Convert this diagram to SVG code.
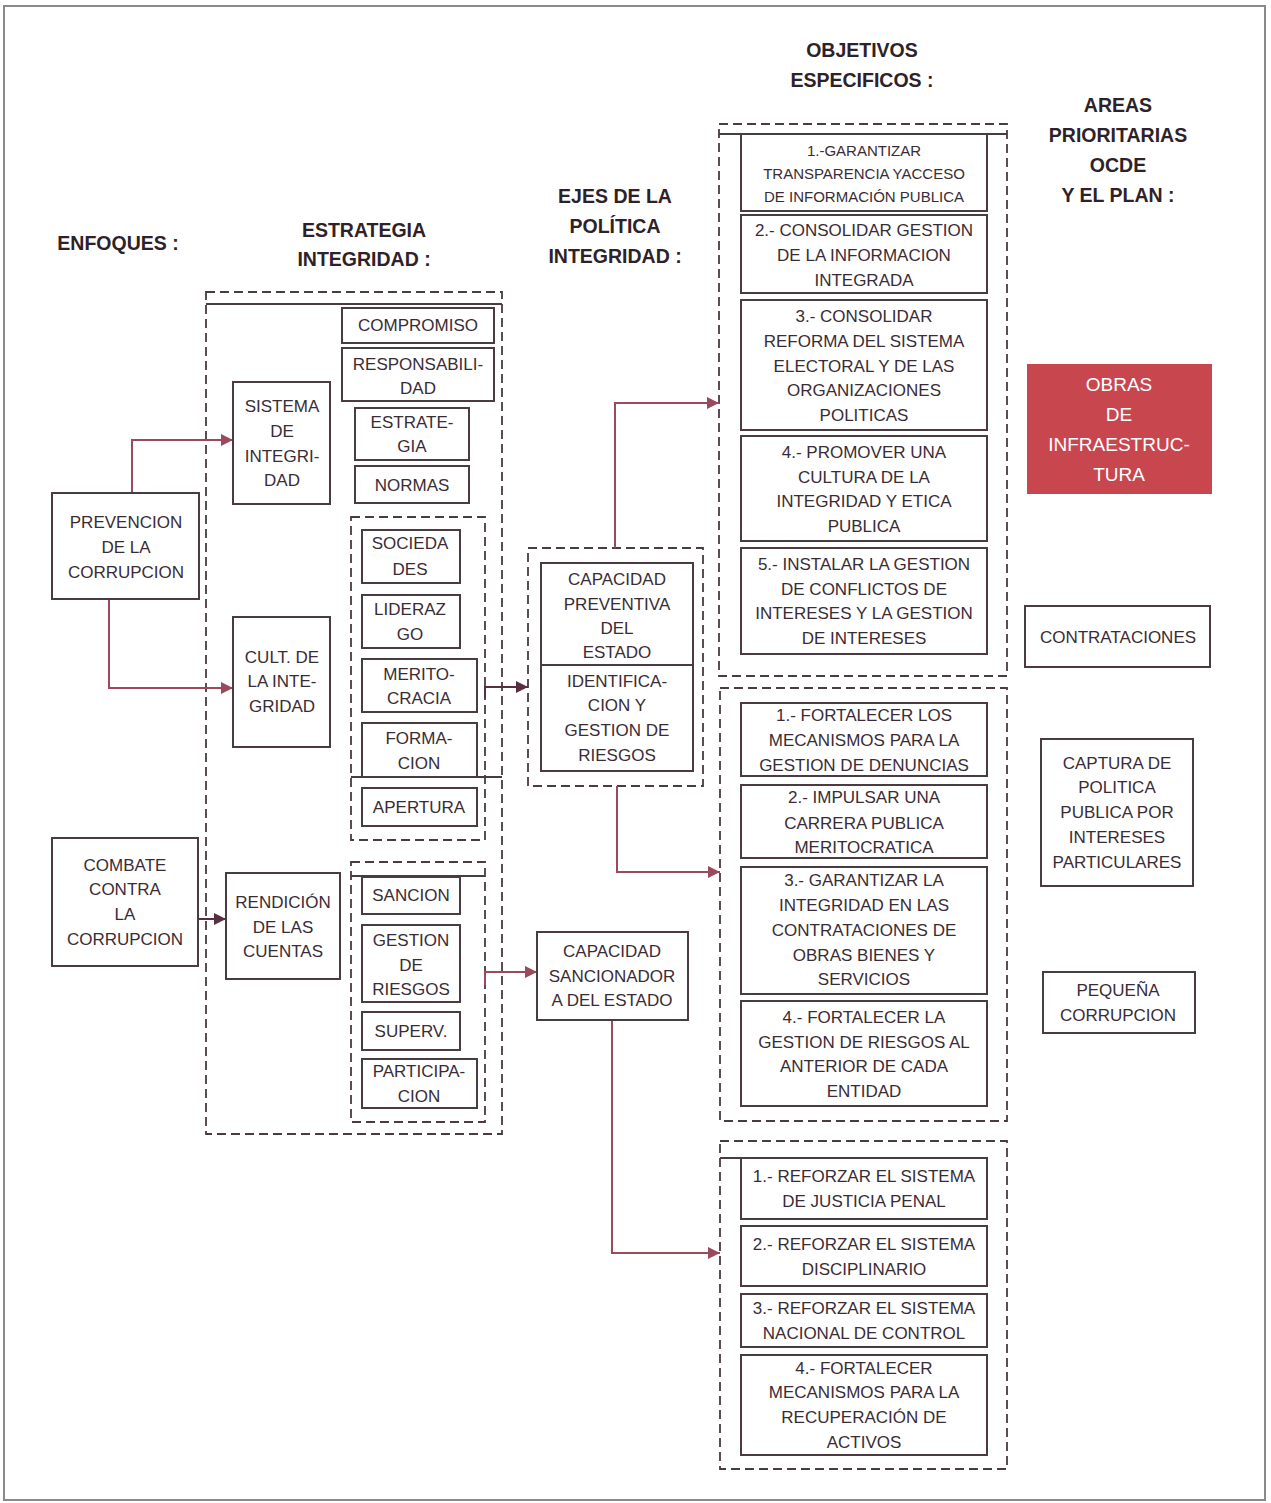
<svg xmlns="http://www.w3.org/2000/svg" width="1271" height="1503" viewBox="0 0 1271 1503">
<defs>
<style>
text{font-family:"Liberation Sans",Arial,sans-serif;fill:#3a2c35;text-anchor:middle;dominant-baseline:central}
.h{font-size:19.5px;font-weight:bold;fill:#2e2228}
.t{font-size:17px}
.s{font-size:15px}
.w{font-size:19px;fill:#ffffff}
.box{fill:#ffffff;stroke:#4a3a42;stroke-width:2}
.dash{fill:none;stroke:#4a3a42;stroke-width:1.8;stroke-dasharray:9 5}
.sol{fill:none;stroke:#4a3a42;stroke-width:1.8}
.c{fill:none;stroke:#9b4a5e;stroke-width:2}
.cd{fill:none;stroke:#5a2e40;stroke-width:2}
</style>
<marker id="a" viewBox="0 0 10 10" refX="10" refY="5" markerWidth="6" markerHeight="6" orient="auto" markerUnits="strokeWidth"><path d="M0,0L10,5L0,10z" fill="#9b4a5e"/></marker>
<marker id="ad" viewBox="0 0 10 10" refX="10" refY="5" markerWidth="6" markerHeight="6" orient="auto" markerUnits="strokeWidth"><path d="M0,0L10,5L0,10z" fill="#5a2e40"/></marker>
</defs>
<rect x="4" y="6" width="1261" height="1494" fill="#ffffff" stroke="#8a8a8a" stroke-width="2"/>

<g id="headers">
<text class="h" x="118" y="243">ENFOQUES :</text>
<text class="h" x="364" y="230">ESTRATEGIA</text>
<text class="h" x="364" y="259">INTEGRIDAD :</text>
<text class="h" x="615" y="196">EJES DE LA</text>
<text class="h" x="615" y="226">POLÍTICA</text>
<text class="h" x="615" y="256">INTEGRIDAD :</text>
<text class="h" x="862" y="50">OBJETIVOS</text>
<text class="h" x="862" y="80">ESPECIFICOS :</text>
<text class="h" x="1118" y="105">AREAS</text>
<text class="h" x="1118" y="135">PRIORITARIAS</text>
<text class="h" x="1118" y="165">OCDE</text>
<text class="h" x="1118" y="195">Y EL PLAN :</text>
</g>

<g id="containers">
<rect class="dash" x="206" y="292" width="296" height="842"/>
<line class="sol" x1="206" y1="304" x2="502" y2="304"/>
<rect class="dash" x="351" y="517" width="134" height="323"/>
<line class="sol" x1="351" y1="777" x2="502" y2="777"/>
<rect class="dash" x="351" y="862" width="134" height="260"/>
<line class="sol" x1="351" y1="876" x2="485" y2="876"/>
<rect class="dash" x="528" y="548" width="175" height="238"/>
<rect class="dash" x="719" y="124" width="288" height="552"/>
<line class="sol" x1="719" y1="134" x2="1007" y2="134"/>
<rect class="dash" x="720" y="688" width="287" height="433"/>
<rect class="dash" x="720" y="1141" width="287" height="328"/>
<line class="sol" x1="720" y1="1158" x2="987" y2="1158"/>
</g>

<g id="connectors">
<path class="c" d="M132,493V440H233" marker-end="url(#a)"/>
<path class="c" d="M109,599V688H233" marker-end="url(#a)"/>
<path class="cd" d="M198,919H226" marker-end="url(#ad)"/>
<path class="cd" d="M485,698V687H528" marker-end="url(#ad)"/>
<path class="c" d="M615,548V403H719" marker-end="url(#a)"/>
<path class="c" d="M617,786V872H720" marker-end="url(#a)"/>
<path class="c" d="M485,985V972H537" marker-end="url(#a)"/>
<path class="c" d="M612,1020V1253H720" marker-end="url(#a)"/>
</g>

<g id="prevencion"><rect class="box" x="52" y="493" width="147" height="106"/>
<text class="t" x="126" y="522">PREVENCION</text><text class="t" x="126" y="547">DE LA</text><text class="t" x="126" y="572">CORRUPCION</text></g>
<g id="combate"><rect class="box" x="52" y="838" width="146" height="128"/>
<text class="t" x="125" y="865">COMBATE</text><text class="t" x="125" y="889">CONTRA</text><text class="t" x="125" y="914">LA</text><text class="t" x="125" y="939">CORRUPCION</text></g>

<g id="sistema"><rect class="box" x="233" y="382" width="97" height="122"/>
<text class="t" x="282" y="406">SISTEMA</text><text class="t" x="282" y="431">DE</text><text class="t" x="282" y="456">INTEGRI-</text><text class="t" x="282" y="480">DAD</text></g>
<g id="cultura"><rect class="box" x="233" y="617" width="97" height="130"/>
<text class="t" x="282" y="657">CULT. DE</text><text class="t" x="282" y="681">LA INTE-</text><text class="t" x="282" y="706">GRIDAD</text></g>
<g id="rendicion"><rect class="box" x="226" y="873" width="114" height="106"/>
<text class="t" x="283" y="902">RENDICIÓN</text><text class="t" x="283" y="927">DE LAS</text><text class="t" x="283" y="951">CUENTAS</text></g>

<g id="compromiso"><rect class="box" x="342" y="308" width="152" height="35"/><text class="t" x="418" y="325">COMPROMISO</text></g>
<g id="responsabilidad"><rect class="box" x="342" y="348" width="152" height="53"/>
<text class="t" x="418" y="364">RESPONSABILI-</text><text class="t" x="418" y="388">DAD</text></g>
<g id="estrategia"><rect class="box" x="355" y="408" width="114" height="52"/>
<text class="t" x="412" y="422">ESTRATE-</text><text class="t" x="412" y="446">GIA</text></g>
<g id="normas"><rect class="box" x="355" y="466" width="114" height="37"/><text class="t" x="412" y="485">NORMAS</text></g>

<g id="sociedades"><rect class="box" x="362" y="530" width="98" height="53"/>
<text class="t" x="410" y="543">SOCIEDA</text><text class="t" x="410" y="569">DES</text></g>
<g id="liderazgo"><rect class="box" x="362" y="595" width="98" height="53"/>
<text class="t" x="410" y="609">LIDERAZ</text><text class="t" x="410" y="634">GO</text></g>
<g id="meritocracia"><rect class="box" x="362" y="659" width="115" height="53"/>
<text class="t" x="419" y="674">MERITO-</text><text class="t" x="419" y="698">CRACIA</text></g>
<g id="formacion"><rect class="box" x="362" y="723" width="115" height="54"/>
<text class="t" x="419" y="738">FORMA-</text><text class="t" x="419" y="763">CION</text></g>
<g id="apertura"><rect class="box" x="362" y="788" width="115" height="38"/><text class="t" x="419" y="807">APERTURA</text></g>

<g id="sancion"><rect class="box" x="362" y="877" width="98" height="37"/><text class="t" x="411" y="895">SANCION</text></g>
<g id="gestion-riesgos"><rect class="box" x="362" y="925" width="98" height="77"/>
<text class="t" x="411" y="940">GESTION</text><text class="t" x="411" y="965">DE</text><text class="t" x="411" y="989">RIESGOS</text></g>
<g id="superv"><rect class="box" x="362" y="1012" width="98" height="38"/><text class="t" x="411" y="1031">SUPERV.</text></g>
<g id="participacion"><rect class="box" x="362" y="1059" width="115" height="49"/>
<text class="t" x="419" y="1071">PARTICIPA-</text><text class="t" x="419" y="1096">CION</text></g>

<g id="capacidad-preventiva"><rect class="box" x="541" y="563" width="152" height="208"/>
<line class="sol" x1="541" y1="665" x2="693" y2="665"/>
<text class="t" x="617" y="579">CAPACIDAD</text><text class="t" x="617" y="604">PREVENTIVA</text><text class="t" x="617" y="628">DEL</text><text class="t" x="617" y="652">ESTADO</text>
<text class="t" x="617" y="681">IDENTIFICA-</text><text class="t" x="617" y="705">CION Y</text><text class="t" x="617" y="730">GESTION DE</text><text class="t" x="617" y="755">RIESGOS</text></g>
<g id="capacidad-sancionadora"><rect class="box" x="537" y="932" width="151" height="88"/>
<text class="t" x="612" y="951">CAPACIDAD</text><text class="t" x="612" y="976">SANCIONADOR</text><text class="t" x="612" y="1000">A DEL ESTADO</text></g>

<g id="obj1-1"><rect class="box" x="741" y="134" width="246" height="77"/>
<text class="s" x="864" y="150">1.-GARANTIZAR</text><text class="s" x="864" y="173">TRANSPARENCIA YACCESO</text><text class="s" x="864" y="196">DE INFORMACIÓN PUBLICA</text></g>
<g id="obj1-2"><rect class="box" x="741" y="215" width="246" height="78"/>
<text class="t" x="864" y="230">2.- CONSOLIDAR GESTION</text><text class="t" x="864" y="255">DE LA INFORMACION</text><text class="t" x="864" y="280">INTEGRADA</text></g>
<g id="obj1-3"><rect class="box" x="741" y="300" width="246" height="130"/>
<text class="t" x="864" y="316">3.- CONSOLIDAR</text><text class="t" x="864" y="341">REFORMA DEL SISTEMA</text><text class="t" x="864" y="366">ELECTORAL Y DE LAS</text><text class="t" x="864" y="390">ORGANIZACIONES</text><text class="t" x="864" y="415">POLITICAS</text></g>
<g id="obj1-4"><rect class="box" x="741" y="436" width="246" height="105"/>
<text class="t" x="864" y="452">4.- PROMOVER UNA</text><text class="t" x="864" y="477">CULTURA DE LA</text><text class="t" x="864" y="501">INTEGRIDAD Y ETICA</text><text class="t" x="864" y="526">PUBLICA</text></g>
<g id="obj1-5"><rect class="box" x="741" y="548" width="246" height="106"/>
<text class="t" x="864" y="564">5.- INSTALAR LA GESTION</text><text class="t" x="864" y="589">DE CONFLICTOS DE</text><text class="t" x="864" y="613">INTERESES Y LA GESTION</text><text class="t" x="864" y="638">DE INTERESES</text></g>

<g id="obj2-1"><rect class="box" x="741" y="703" width="246" height="73"/>
<text class="t" x="864" y="715">1.- FORTALECER LOS</text><text class="t" x="864" y="740">MECANISMOS PARA LA</text><text class="t" x="864" y="765">GESTION DE DENUNCIAS</text></g>
<g id="obj2-2"><rect class="box" x="741" y="785" width="246" height="73"/>
<text class="t" x="864" y="797">2.- IMPULSAR UNA</text><text class="t" x="864" y="823">CARRERA PUBLICA</text><text class="t" x="864" y="847">MERITOCRATICA</text></g>
<g id="obj2-3"><rect class="box" x="741" y="867" width="246" height="127"/>
<text class="t" x="864" y="880">3.- GARANTIZAR LA</text><text class="t" x="864" y="905">INTEGRIDAD EN LAS</text><text class="t" x="864" y="930">CONTRATACIONES  DE</text><text class="t" x="864" y="955">OBRAS BIENES Y</text><text class="t" x="864" y="979">SERVICIOS</text></g>
<g id="obj2-4"><rect class="box" x="741" y="1001" width="246" height="105"/>
<text class="t" x="864" y="1017">4.- FORTALECER LA</text><text class="t" x="864" y="1042">GESTION DE RIESGOS AL</text><text class="t" x="864" y="1066">ANTERIOR DE CADA</text><text class="t" x="864" y="1091">ENTIDAD</text></g>

<g id="obj3-1"><rect class="box" x="741" y="1158" width="246" height="61"/>
<text class="t" x="864" y="1176">1.- REFORZAR EL SISTEMA</text><text class="t" x="864" y="1201">DE JUSTICIA PENAL</text></g>
<g id="obj3-2"><rect class="box" x="741" y="1226" width="246" height="60"/>
<text class="t" x="864" y="1244">2.- REFORZAR EL SISTEMA</text><text class="t" x="864" y="1269">DISCIPLINARIO</text></g>
<g id="obj3-3"><rect class="box" x="741" y="1294" width="246" height="53"/>
<text class="t" x="864" y="1308">3.- REFORZAR EL SISTEMA</text><text class="t" x="864" y="1333">NACIONAL DE CONTROL</text></g>
<g id="obj3-4"><rect class="box" x="741" y="1355" width="246" height="100"/>
<text class="t" x="864" y="1368">4.- FORTALECER</text><text class="t" x="864" y="1392">MECANISMOS PARA LA</text><text class="t" x="864" y="1417">RECUPERACIÓN DE</text><text class="t" x="864" y="1442">ACTIVOS</text></g>

<g id="obras"><rect x="1027" y="364" width="185" height="130" fill="#c8474f"/>
<text class="w" x="1119" y="384">OBRAS</text><text class="w" x="1119" y="414">DE</text><text class="w" x="1119" y="444">INFRAESTRUC-</text><text class="w" x="1119" y="474">TURA</text></g>
<g id="contrataciones"><rect class="box" x="1025" y="606" width="185" height="61"/><text class="t" x="1118" y="637">CONTRATACIONES</text></g>
<g id="captura"><rect class="box" x="1041" y="739" width="152" height="147"/>
<text class="t" x="1117" y="763">CAPTURA DE</text><text class="t" x="1117" y="787">POLITICA</text><text class="t" x="1117" y="812">PUBLICA POR</text><text class="t" x="1117" y="837">INTERESES</text><text class="t" x="1117" y="862">PARTICULARES</text></g>
<g id="pequena"><rect class="box" x="1043" y="972" width="152" height="61"/>
<text class="t" x="1118" y="990">PEQUEÑA</text><text class="t" x="1118" y="1015">CORRUPCION</text></g>
</svg>
